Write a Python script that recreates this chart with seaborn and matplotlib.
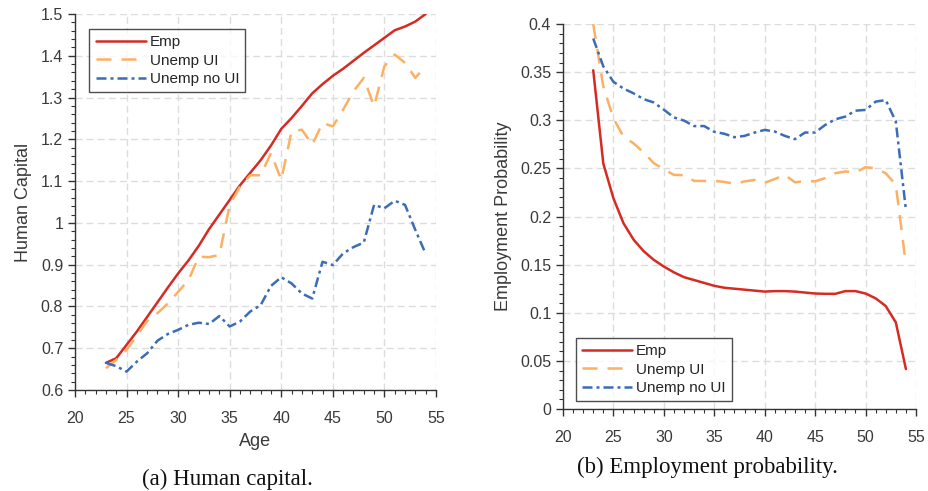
import numpy as np
import pandas as pd
import matplotlib
matplotlib.use("Agg")
import matplotlib.pyplot as plt
from matplotlib.ticker import MultipleLocator, FormatStrFormatter
import seaborn as sns

ages = list(range(23, 55))

# Human capital by age
hc_emp = [0.665, 0.676, 0.708, 0.740, 0.775, 0.810, 0.845, 0.879, 0.910, 0.945,
          0.985, 1.020, 1.055, 1.090, 1.120, 1.150, 1.185, 1.225, 1.251, 1.280,
          1.310, 1.332, 1.352, 1.369, 1.388, 1.407, 1.425, 1.443, 1.461, 1.470,
          1.482, 1.500]
hc_ui = [0.652, 0.672, 0.696, 0.730, 0.765, 0.784, 0.807, 0.835, 0.863, 0.919,
         0.918, 0.923, 1.043, 1.087, 1.114, 1.114, 1.167, 1.103, 1.219, 1.223,
         1.187, 1.239, 1.231, 1.271, 1.315, 1.347, 1.279, 1.375, 1.403, 1.383,
         1.347, 1.376]
hc_noui = [0.665, 0.657, 0.644, 0.668, 0.688, 0.718, 0.734, 0.744, 0.756, 0.761,
           0.758, 0.777, 0.752, 0.764, 0.788, 0.803, 0.849, 0.870, 0.855, 0.831,
           0.819, 0.907, 0.899, 0.927, 0.942, 0.953, 1.043, 1.035, 1.053, 1.043,
           0.983, 0.926]

# Employment probability by age
ep_emp = [0.352, 0.255, 0.219, 0.193, 0.176, 0.164, 0.155, 0.148, 0.142, 0.137,
          0.134, 0.131, 0.128, 0.126, 0.125, 0.124, 0.123, 0.122, 0.1225, 0.1225,
          0.122, 0.121, 0.120, 0.1197, 0.1197, 0.1225, 0.1225, 0.120, 0.115, 0.107,
          0.090, 0.0415]
ep_ui = [0.400, 0.335, 0.302, 0.283, 0.276, 0.2665, 0.2555, 0.249, 0.2433, 0.243,
         0.237, 0.237, 0.237, 0.236, 0.234, 0.2365, 0.238, 0.235, 0.239, 0.2433,
         0.2355, 0.237, 0.2365, 0.240, 0.245, 0.2468, 0.2458, 0.2513, 0.250, 0.245,
         0.233, 0.150]
ep_noui = [0.385, 0.356, 0.340, 0.333, 0.328, 0.322, 0.3185, 0.311, 0.303, 0.2997,
           0.294, 0.294, 0.288, 0.286, 0.2824, 0.2838, 0.2873, 0.290, 0.2883, 0.2838,
           0.2804, 0.2873, 0.2873, 0.2952, 0.301, 0.3039, 0.310, 0.3108, 0.3194, 0.321,
           0.2987, 0.207]

series = ["Emp", "Unemp UI", "Unemp no UI"]
colors = {"Emp": "#d52b23", "Unemp UI": "#fdaf62", "Unemp no UI": "#3b6cb6"}
dashes = {"Emp": "", "Unemp UI": (6, 4), "Unemp no UI": (4, 1.6, 1.2, 1.6)}


def long_frame(values):
    rows = []
    for name, vals in zip(series, values):
        for a, v in zip(ages, vals):
            rows.append({"Age": a, "value": v, "series": name})
    return pd.DataFrame(rows)


df_hc = long_frame([hc_emp, hc_ui, hc_noui])
df_ep = long_frame([ep_emp, ep_ui, ep_noui])

sns.set_style("white")
plt.rcParams["font.family"] = ["Liberation Sans", "DejaVu Sans"]

fig = plt.figure(figsize=(9.29, 4.91), dpi=100)
ax1 = fig.add_axes([0.0807, 0.2057, 0.3886, 0.7658])
ax2 = fig.add_axes([0.606, 0.167, 0.380, 0.784])

txt = "#3a3a3a"
for ax, df in ((ax1, df_hc), (ax2, df_ep)):
    sns.lineplot(data=df, x="Age", y="value", hue="series", style="series",
                 palette=colors, dashes=dashes, hue_order=series,
                 style_order=series, linewidth=1.8, ax=ax)
    ax.set_xlim(20, 55)
    ax.xaxis.set_major_locator(MultipleLocator(5))
    ax.xaxis.set_minor_locator(MultipleLocator(1))
    ax.grid(True, which="major", color="#dcdcdc", linestyle=(0, (5, 3)),
            linewidth=1.0)
    ax.set_axisbelow(True)
    for s in ("top", "right"):
        ax.spines[s].set_visible(False)
    for s in ("left", "bottom"):
        ax.spines[s].set_color("#333333")
        ax.spines[s].set_linewidth(1.0)
    ax.tick_params(which="both", left=True, bottom=True, top=False, right=False)
    ax.tick_params(which="major", direction="out", length=5, width=1.0,
                   color="#333333", labelsize=11.5, labelcolor=txt)
    ax.tick_params(which="minor", direction="out", length=3, width=0.8,
                   color="#333333")
    ax.tick_params(axis="x", which="major", pad=10)
    leg = ax.legend(title=None, fontsize=11, frameon=True, fancybox=False,
                    handlelength=3.3, handletextpad=0.25, borderpad=0.4,
                    labelspacing=0.3, borderaxespad=0.0)
    leg.get_frame().set_edgecolor("#222222")
    leg.get_frame().set_linewidth(1.0)
    for line in leg.get_lines():
        line.set_linewidth(1.8)

ax1.set_ylim(0.6, 1.5)
ax1.yaxis.set_major_locator(MultipleLocator(0.1))
ax1.yaxis.set_minor_locator(MultipleLocator(0.02))
ax1.yaxis.set_major_formatter(FormatStrFormatter("%g"))
ax1.set_xlabel("Age", fontsize=13, color=txt, labelpad=5)
ax1.set_ylabel("Human Capital", fontsize=13, color=txt, labelpad=6)
ax1.legend_.set_bbox_to_anchor((0.04, 0.96))
ax1.legend_._loc = 2

ax2.set_ylim(0, 0.4)
ax2.yaxis.set_major_locator(MultipleLocator(0.05))
ax2.yaxis.set_minor_locator(MultipleLocator(0.01))
ax2.yaxis.set_major_formatter(FormatStrFormatter("%g"))
ax2.set_xlabel("")
ax2.set_ylabel("Employment Probability", fontsize=13, color=txt, labelpad=6)
ax2.legend_.set_bbox_to_anchor((0.036, 0.02))
ax2.legend_._loc = 3

fig.text(0.245, 0.012, "(a) Human capital.", ha="center", va="baseline",
         fontsize=16.5, family=["Liberation Serif", "DejaVu Serif"], color="#111111")
fig.text(0.761, 0.037, "(b) Employment probability.", ha="center", va="baseline",
         fontsize=16.5, family=["Liberation Serif", "DejaVu Serif"], color="#111111")

fig.savefig("out.png", dpi=100)
